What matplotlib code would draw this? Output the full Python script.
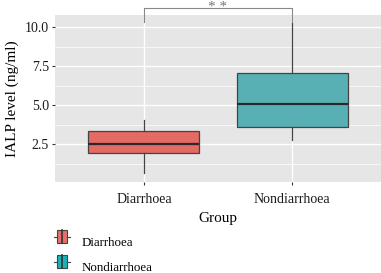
import matplotlib
matplotlib.use("Agg")
import matplotlib.pyplot as plt
from matplotlib.patches import Rectangle
from matplotlib.lines import Line2D
from matplotlib.legend_handler import HandlerBase

plt.rcParams['font.family'] = ['Liberation Serif', 'DejaVu Serif']

# values (box summary stats)
groups = ['Diarrhoea', 'Nondiarrhoea']
whislo = [0.64, 2.76]
q1 = [1.92, 3.59]
med = [2.50, 5.05]
q3 = [3.33, 7.05]
whishi = [4.04, 10.26]
box_colors = ['#E46A64', '#58B0B4']
key_colors = ['#E8706A', '#1AB3B8']
y_ticks = [2.5, 5.0, 7.5, 10.0]
signif = '**'


class BoxKey(HandlerBase):
    # little boxplot glyph like ggplot's legend key
    def create_artists(self, legend, orig, xd, yd, width, height, fontsize, trans):
        c = orig.get_facecolor()
        bx = xd + width * 0.17
        bw = width * 0.66
        r = Rectangle((bx, yd), bw, height, facecolor=c, edgecolor='#444444',
                      linewidth=0.8, transform=trans)
        ym = yd + height / 2
        w1 = Line2D([xd, bx], [ym, ym], color='#444444', lw=0.8, transform=trans)
        w2 = Line2D([bx + bw, xd + width], [ym, ym], color='#444444', lw=0.8,
                    transform=trans)
        m = Line2D([xd + width / 2] * 2, [yd, yd + height], color='#333333',
                   lw=1.2, transform=trans)
        return [r, w1, w2, m]


fig = plt.figure(figsize=(3.81, 2.73), dpi=100)
ax = fig.add_axes([0.1444, 0.333, 0.8556, 0.612])
ax.set_facecolor('#E6E6E6')

stats = []
for i, g in enumerate(groups):
    stats.append(dict(label=g, whislo=whislo[i], q1=q1[i], med=med[i],
                      q3=q3[i], whishi=whishi[i], fliers=[]))

bp = ax.bxp(stats, positions=[1, 2], widths=0.75, patch_artist=True,
            showcaps=False,
            boxprops=dict(edgecolor='#444444', linewidth=0.9),
            whiskerprops=dict(color='#444444', linewidth=0.9),
            medianprops=dict(color='#2a2a2a', linewidth=1.6))
for patch, c in zip(bp['boxes'], box_colors):
    patch.set_facecolor(c)

ax.set_xlim(0.4, 2.6)
ax.set_ylim(0.07, 10.77)
ax.set_yticks(y_ticks)
ax.set_yticklabels([f'{v:.1f}' for v in y_ticks])
ax.set_yticks([1.25, 3.75, 6.25, 8.75], minor=True)
ax.set_xticks([1, 2])
ax.set_xticklabels(groups)
ax.grid(True, which='major', color='white', linewidth=1.0)
ax.grid(True, which='minor', axis='y', color='white', linewidth=0.5)
ax.set_axisbelow(True)
for s in ax.spines.values():
    s.set_visible(False)
ax.tick_params(axis='both', which='major', length=2.5, color='#333333',
               labelsize=10, labelcolor='#1a1a1a', pad=2)
ax.tick_params(axis='x', which='major', pad=5)
ax.tick_params(axis='both', which='minor', length=0)
ax.set_xlabel('Group', fontsize=11, labelpad=5)
ax.set_ylabel('IALP level (ng/ml)', fontsize=11, labelpad=4)

# significance bracket
yb = 11.22
ax.plot([1, 1, 2, 2], [10.32, yb, yb, 10.32], color='#888888', linewidth=0.8,
        clip_on=False)
ax.text(1.5, 11.05, '* *', ha='center', va='baseline', fontsize=11,
        color='#777777')

# legend below the plot
handles = [Rectangle((0, 0), 1, 1, facecolor=c) for c in key_colors]
leg = fig.legend(handles, groups, loc='upper left',
                 bbox_to_anchor=(0.143, 0.14), frameon=False,
                 fontsize=9.3, handlelength=1.2, handleheight=1.2,
                 labelspacing=0.85, handletextpad=0.9, borderpad=0,
                 borderaxespad=0, handler_map={Rectangle: BoxKey()})

fig.savefig('out.png', dpi=100)
